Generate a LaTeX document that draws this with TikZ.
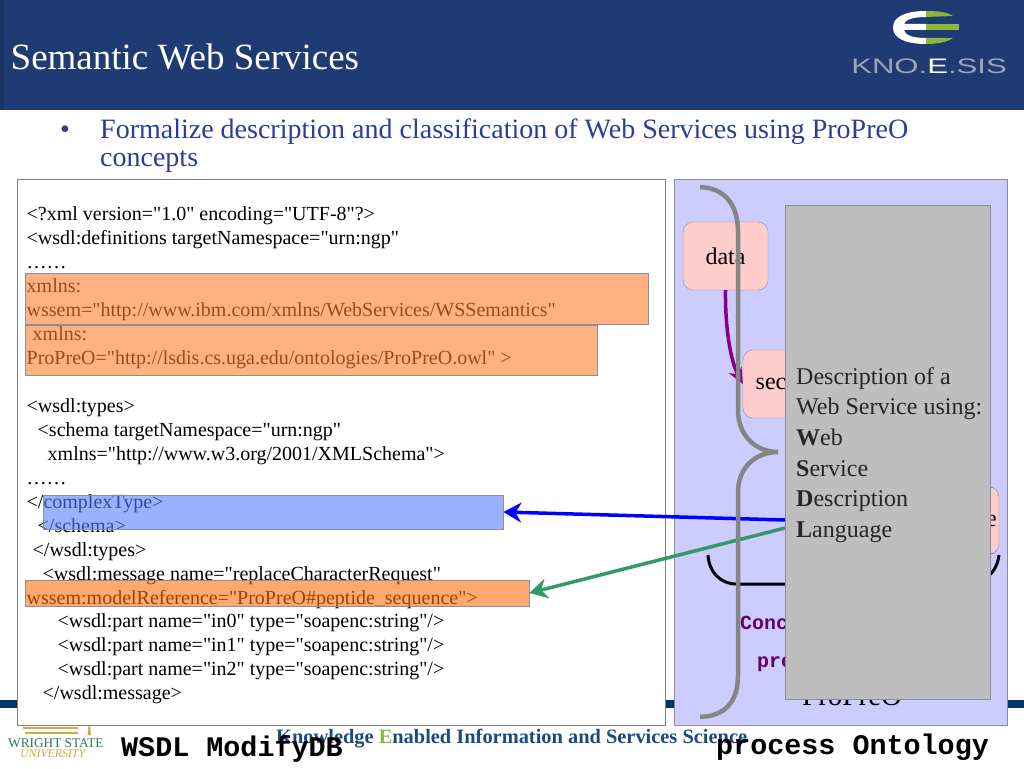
\documentclass[tikz,border=0pt]{standalone}
\usepackage{fontspec}
\setmainfont{Liberation Serif}
\setmonofont{Liberation Mono}
\setsansfont{Liberation Sans}
\newfontfamily\codefont{Liberation Serif}
\usetikzlibrary{arrows.meta}
\definecolor{headblue}{HTML}{1F3B73}
\definecolor{stripblue}{HTML}{003366}
\definecolor{panelblue}{HTML}{CCCCFF}
\definecolor{pinkbox}{HTML}{FFCCCC}
\definecolor{grayedge}{HTML}{8C8C9C}
\definecolor{bracegray}{HTML}{858585}
\definecolor{covergray}{HTML}{BEBEBE}
\definecolor{bullettext}{HTML}{2D3C9B}
\definecolor{arrowgreen}{HTML}{339966}
\definecolor{conceptred}{HTML}{660066}
\definecolor{footblue}{HTML}{1B4A80}
\definecolor{limegreen}{HTML}{8DB63C}
\definecolor{lightorange}{HTML}{FF802B}
\definecolor{deeporange}{HTML}{FF6E10}
\definecolor{markblue}{HTML}{5580FF}
\definecolor{logogray}{HTML}{9AA6B8}
\definecolor{wsugold}{HTML}{D2A93C}
\begin{document}
\begin{tikzpicture}[x=1pt,y=-1pt,
    codeline/.style={anchor=base west,inner sep=0pt,font=\codefont\fontsize{20}{22}\selectfont},
    bulletline/.style={anchor=base west,inner sep=0pt,text=bullettext,font=\fontsize{28}{30}\selectfont},
    hlbox/.style={draw=grayedge,line width=.8pt,inner sep=0pt,fill opacity=.6,draw opacity=1},
    pinknode/.style={draw=grayedge,fill=pinkbox,rounded corners=10pt,inner sep=0pt,font=\fontsize{24}{26}\selectfont},
    conceptline/.style={anchor=base west,inner sep=0pt,text=conceptred,font=\ttfamily\bfseries\fontsize{20}{22}\selectfont},
    captionline/.style={anchor=base west,inner sep=0pt,font=\ttfamily\bfseries\fontsize{28.4}{30}\selectfont},
    tipped/.style={line width=3.5pt,-{Stealth[length=18pt,width=20pt,inset=6pt]}}]
    \useasboundingbox (0,0) rectangle (1024,768);
    \fill[white] (0,0) rectangle (1024,768);
    % header
    \fill[headblue] (0,0) rectangle (1024,110);
    \fill[headblue!85!black] (0,0) rectangle (4,110);
    \fill[stripblue] (0,700) rectangle (1024,708);
    \node[anchor=base west,inner sep=0pt,text=white,font=\fontsize{37}{39}\selectfont] (title) at (10.5,69) {Semantic Web Services};
    % logo
    \fill[white] (926,11) .. controls (905,11) and (893,17) .. (893,27.5) .. controls (893,38) and (905,44) .. (926,44) -- (926,38) .. controls (912,38) and (905,35) .. (904,30) -- (926,30) -- (926,24) -- (904,24) .. controls (905,20) and (912,17) .. (926,17) -- cycle;
    \fill[limegreen] (926,11) .. controls (938,11) and (947,12) .. (953,16) -- (926,17) -- cycle;
    \fill[limegreen] (926,24) -- (959,24) -- (959,30) -- (926,30) -- cycle;
    \fill[limegreen] (926,38) -- (953,38) .. controls (947,42) and (938,44) .. (926,44) -- cycle;
    \node[inner sep=0pt,text=logogray,xscale=1.48,transform shape,font=\sffamily\fontsize{21}{23}\selectfont] (logotext) at (929,66) {KNO.\textcolor{white}{E}.SIS};
    % bullet
    \node[bulletline] (bulletmark) at (60,138) {•};
    \node[bulletline] (bulletone) at (100,138) {Formalize description and classification of Web Services using ProPreO};
    \node[bulletline] (bullettwo) at (100,166) {concepts};
    % wsdl panel
    \draw[fill=white,draw=gray,line width=.9pt] (17,179) rectangle (665,725);
    \node[codeline] (l1) at (26.5,220) {<?xml version="1.0" encoding="UTF-8"?>};
    \node[codeline] (l2) at (26.5,244) {<wsdl:definitions targetNamespace="urn:ngp"};
    \node[codeline] (l3) at (26.5,268) {……};
    \node[codeline] (l4) at (26.5,292) {xmlns:};
    \node[codeline] (l5) at (26.5,316) {wssem="http://www.ibm.com/xmlns/WebServices/WSSemantics"};
    \node[codeline] (l6) at (32.5,340) {xmlns:};
    \node[codeline] (l7) at (26.5,364) {ProPreO="http://lsdis.cs.uga.edu/ontologies/ProPreO.owl" >};
    \node[codeline] (l8) at (26.5,412) {<wsdl:types>};
    \node[codeline] (l9) at (37.5,436) {<schema targetNamespace="urn:ngp"};
    \node[codeline] (l10) at (47.5,460) {xmlns="http://www.w3.org/2001/XMLSchema">};
    \node[codeline] (l11) at (26.5,484) {……};
    \node[codeline] (l12) at (26.5,508) {</complexType>};
    \node[codeline] (l13) at (37.5,532) {</schema>};
    \node[codeline] (l14) at (32.5,556) {</wsdl:types>};
    \node[codeline] (l15) at (42.5,580) {<wsdl:message name="replaceCharacterRequest"};
    \node[codeline] (l16) at (26.5,604) {wssem:modelReference="ProPreO\#peptide\_sequence">};
    \node[codeline] (l17) at (57.5,627) {<wsdl:part name="in0" type="soapenc:string"/>};
    \node[codeline] (l18) at (57.5,651) {<wsdl:part name="in1" type="soapenc:string"/>};
    \node[codeline] (l19) at (57.5,675) {<wsdl:part name="in2" type="soapenc:string"/>};
    \node[codeline] (l20) at (42.5,699) {</wsdl:message>};
    \node[hlbox,fill=lightorange,minimum width=623pt,minimum height=51pt] (wssembox) at (336.5,298.5) {};
    \node[hlbox,fill=lightorange,minimum width=572pt,minimum height=50pt] (propreobox) at (311,350) {};
    \node[hlbox,fill=markblue,minimum width=460pt,minimum height=34pt] (typebox) at (273,512) {};
    \node[hlbox,fill=deeporange,minimum width=504pt,minimum height=26pt] (modelbox) at (277,593) {};
    % ontology panel
    \draw[fill=panelblue,draw=grayedge,line width=.8pt] (674,179) rectangle (1007,725);
    \node[pinknode,minimum width=85pt,minimum height=68pt] (databox) at (725.5,256) {data};
    \node[pinknode,minimum width=56pt,minimum height=68pt] (seqbox) at (771,384) {sec};
    \node[pinknode,minimum width=15pt,minimum height=67pt] (endbox) at (991.5,520.5) {e};
    \draw[line width=3.5pt,violet!70!magenta!80!black,-{Stealth[length=16pt,width=14pt,inset=5pt]}] (databox.south) .. controls (725,325) and (730,360) .. (seqbox.west);
    \draw[line width=3pt,black] (708,555) .. controls (709,572) and (720,584) .. (737,584) -- (965,584) .. controls (985,584) and (997,572) .. (999,555);
    \node[conceptline] (conc) at (740,629) {Conc};
    \node[conceptline] (pro) at (757,667) {pro};
    \node[anchor=base west,inner sep=0pt,font=\fontsize{29}{31}\selectfont] (ontname) at (802,705) {ProPreO};
    % connectors
    \coordinate (bluefrom) at (785,520);
    \coordinate (greenfrom) at (785,528);
    \draw[tipped,blue] (bluefrom) -- (typebox.east);
    \draw[tipped,arrowgreen] (greenfrom) -- (modelbox.east);
    \draw[line width=4.5pt,bracegray] (700,187) .. controls (725,188) and (738,205) .. (738,232) -- (738,410) .. controls (738,435) and (755,452) .. (778,452) .. controls (755,452) and (738,468) .. (738,492) -- (738,675) .. controls (738,702) and (725,716) .. (700,717);
    % cover
    \node[draw=grayedge,fill=covergray,line width=.8pt,minimum width=205pt,minimum height=494pt,inner sep=0pt] (cover) at (887.5,452) {};
    \node[anchor=north west,inner sep=0pt,align=left,text=black!85,font=\fontsize{24}{30.7}\selectfont] (desc) at (796,367) {Description of a\\Web Service using:\\\textbf{W}eb\\\textbf{S}ervice\\\textbf{D}escription\\\textbf{L}anguage};
    % footer
    \node[anchor=base west,inner sep=0pt,text=footblue,font=\bfseries\fontsize{20.4}{22}\selectfont] (footer) at (276,743) {Knowledge \textcolor{limegreen}{E}nabled Information and Services Science};
    \node[captionline] (wsdlcap) at (121,756) {WSDL ModifyDB};
    \node[captionline] (ontcap) at (716,754) {process Ontology};
    % wright state
    \fill[wsugold] (23,727) -- (78,727) -- (78,728.5) -- (23,728.5) -- cycle;
    \fill[wsugold] (25,732) -- (78,732) -- (78,733.5) -- (25,733.5) -- cycle;
    \fill[wsugold] (87.5,735) -- (88.5,726) -- (90,726) -- (91,735) -- cycle;
    \node[anchor=base west,inner sep=0pt,text=arrowgreen!80!black,font=\fontsize{13.3}{14}\selectfont] (wright) at (8,747) {WRIGHT STATE};
    \node[anchor=base west,inner sep=0pt,text=wsugold,font=\itshape\fontsize{11.8}{12}\selectfont] (univ) at (20,757) {UNIVERSITY};
\end{tikzpicture}
\end{document}
